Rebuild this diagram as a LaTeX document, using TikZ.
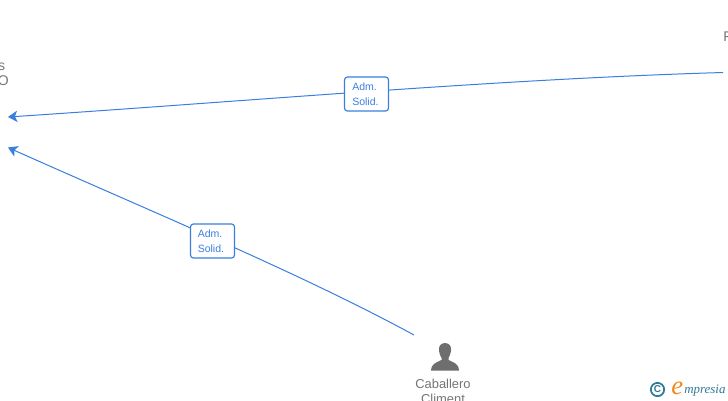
\documentclass[tikz,border=0pt]{standalone}
\usepackage{fontspec}
\setmainfont{Liberation Sans}
\newfontfamily\logoserif{Liberation Serif}
\usetikzlibrary{arrows.meta}
\definecolor{linkblue}{HTML}{3A7FDE}
\definecolor{labelgrey}{HTML}{757575}
\definecolor{iconGrey}{HTML}{6E6E6E}
\definecolor{logoteal}{HTML}{2F7A96}
\definecolor{logoorange}{HTML}{F08A1D}
\tikzset{
  px/.style={x=0.75pt,y=-0.75pt},
  link/.style={draw=linkblue,line width=0.75pt,-{Stealth[length=7pt,width=8.5pt,inset=1.8pt]}},
  badge/.style={draw=linkblue,line width=0.9pt,rounded corners=2.2pt,fill=white,minimum width=33pt,minimum height=25.5pt,inner sep=0pt,text=linkblue},
  badgetext/.style={inner sep=0pt,text=linkblue,font=\fontsize{7.9pt}{11.3pt}\selectfont,align=left},
  who/.style={text=labelgrey,font=\fontsize{9.7pt}{11pt}\selectfont,inner sep=0pt},
  cutwho/.style={who,font=\fontsize{10.5pt}{11pt}\selectfont},
}
\begin{document}
\begin{tikzpicture}[px]
\useasboundingbox (0,0) rectangle (728,400);
\clip (0,0) rectangle (728,400);
\fill[white] (0,0) rectangle (728,400);
\coordinate (leftA) at (8,117);
\coordinate (leftB) at (8,147.5);
\coordinate (rightEnd) at (723,72.5);
\coordinate (personEnd) at (414,335);
\draw[link] (rightEnd) .. controls (500,79) and (250,101) .. (leftA);
\draw[link] (personEnd) .. controls (300,273) and (150,211) .. (leftB);
\node[badge] (b1) at (366.5,94) {};
\node[badge] (b2) at (212.5,241) {};
\node[badgetext,anchor=west] (t1) at (352,94.5) {Adm.\\Solid.};
\node[badgetext,anchor=west] (t2) at (197.5,241.5) {Adm.\\Solid.};
\node[cutwho,anchor=base east] (s1) at (5.5,70) {s};
\node[cutwho,anchor=base east] (s2) at (9,85.5) {O};
\node[cutwho,anchor=base west] (f1) at (723,41) {F};
\fill[iconGrey] (445,343) .. controls (440,343) and (438.5,347) .. (439,351)
  .. controls (439.3,354) and (440.5,356) .. (441.5,358) -- (441.5,360)
  .. controls (437,362.5) and (431.5,363) .. (431,370.5) -- (459,370.5)
  .. controls (458.5,363) and (453,362.5) .. (448.5,360) -- (448.5,358)
  .. controls (449.5,356) and (450.7,354) .. (451,351)
  .. controls (451.5,347) and (450,343) .. (445,343) -- cycle;
\node[who,anchor=base] (p1) at (443,388) {Caballero};
\node[who,anchor=base] (p2) at (443,403) {Climent};
\node[text=logoteal,draw=logoteal,line width=1.3pt,circle,minimum size=10pt,inner sep=0pt,font=\fontsize{7.5pt}{7.5pt}\selectfont\bfseries] (c) at (657.5,389.5) {C};
\node[anchor=base east,inner sep=0pt,text=logoorange,font=\logoserif\fontsize{20pt}{20pt}\selectfont\itshape] (e) at (683.5,394) {e};
\node[anchor=base west,inner sep=0pt,text=logoteal,font=\logoserif\fontsize{9.7pt}{10pt}\selectfont\itshape] (m) at (684,393.5) {mpresia};
\end{tikzpicture}
\end{document}
